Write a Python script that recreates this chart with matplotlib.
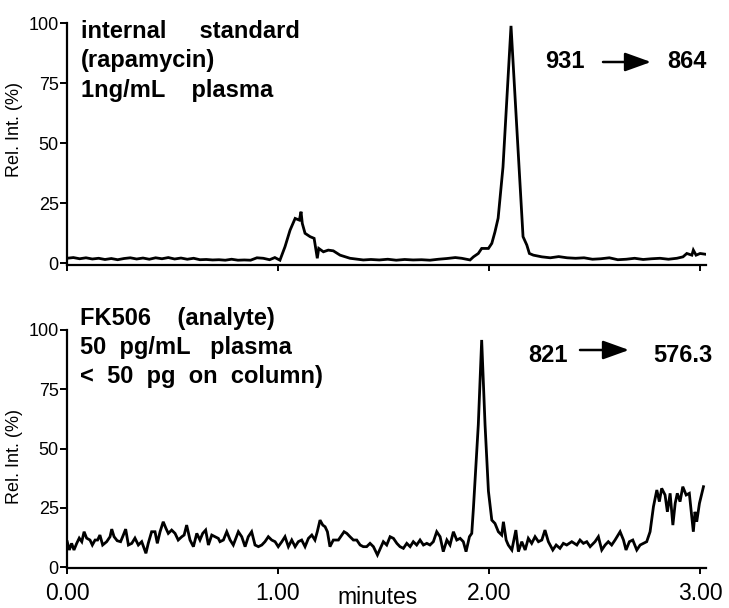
import matplotlib
matplotlib.use("Agg")
import matplotlib.pyplot as plt

plt.rcParams['font.family'] = ['Liberation Sans', 'DejaVu Sans']

# ---------------- data (minutes, relative intensity %) ----------------
top_time = [0.000, 0.030, 0.060, 0.090, 0.120, 0.150, 0.180, 0.210, 0.240, 0.270,
            0.300, 0.330, 0.360, 0.390, 0.420, 0.450, 0.480, 0.510, 0.540, 0.570,
            0.600, 0.630, 0.660, 0.690, 0.720, 0.750, 0.780, 0.810, 0.840, 0.870,
            0.900, 0.930, 0.960, 0.985,
            1.009, 1.033, 1.057, 1.081, 1.101, 1.109, 1.115, 1.128, 1.152, 1.171,
            1.186, 1.193, 1.215, 1.238, 1.262, 1.294, 1.341, 1.404,
            1.440, 1.480, 1.520, 1.560, 1.600, 1.640, 1.680, 1.720, 1.760, 1.800,
            1.840, 1.870, 1.910, 1.926, 1.949, 1.965, 1.997, 2.013, 2.028, 2.043,
            2.066, 2.104, 2.133, 2.161, 2.179, 2.191, 2.210,
            2.250, 2.290, 2.330, 2.370, 2.410, 2.450, 2.490, 2.530, 2.570, 2.610,
            2.650, 2.690, 2.730, 2.770, 2.810, 2.850, 2.890, 2.919, 2.937, 2.961,
            2.968, 2.981, 3.000, 3.024]
top_val = [2.0, 2.3, 1.8, 2.2, 1.7, 2.0, 1.5, 1.9, 1.4, 1.9,
           2.2, 1.7, 2.1, 1.6, 2.2, 1.8, 2.3, 1.7, 2.1, 1.6,
           2.0, 1.4, 1.5, 1.3, 1.4, 1.2, 1.6, 1.2, 1.3, 1.2,
           2.2, 2.0, 1.4, 2.3,
           1.2, 6.8, 13.7, 18.6, 17.9, 21.4, 16.5, 12.4, 11.0, 10.3,
           2.0, 6.1, 4.7, 5.4, 5.1, 3.3, 2.0, 1.3,
           1.5, 1.3, 1.6, 1.2, 1.5, 1.3, 1.4, 1.2, 1.6, 1.9,
           2.3, 2.0, 1.3, 2.6, 4.0, 6.1, 6.1, 8.2, 13.0, 18.7,
           40.0, 98.8, 54.0, 11.0, 7.5, 4.0, 3.3,
           2.6, 2.2, 2.7, 2.2, 2.0, 2.2, 1.6, 1.8, 2.2, 1.4,
           1.6, 2.0, 1.5, 1.8, 2.0, 1.6, 2.0, 2.6, 4.0, 3.3,
           5.4, 3.3, 4.0, 3.7]

bot_time = [0.001, 0.011, 0.022, 0.033, 0.046, 0.058, 0.070, 0.081, 0.093, 0.109,
            0.120, 0.133, 0.145, 0.156, 0.169, 0.188, 0.204, 0.212, 0.223, 0.238,
            0.254, 0.267, 0.278, 0.291, 0.307, 0.322, 0.338, 0.354, 0.374, 0.385,
            0.401, 0.417, 0.428, 0.441, 0.456, 0.469, 0.480, 0.496, 0.512, 0.527,
            0.544, 0.555, 0.567, 0.583, 0.599, 0.615, 0.630, 0.643, 0.657, 0.670,
            0.686, 0.701, 0.717,
            0.725, 0.741, 0.757, 0.773, 0.788, 0.812, 0.828, 0.844, 0.859, 0.875,
            0.891, 0.907, 0.923, 0.938, 0.954, 0.970, 0.986, 1.001, 1.018, 1.033,
            1.049, 1.065, 1.081, 1.096, 1.112, 1.128, 1.144, 1.160, 1.175, 1.186,
            1.199, 1.212, 1.223, 1.234, 1.246, 1.262, 1.286, 1.302, 1.313, 1.326,
            1.341, 1.357, 1.373, 1.389, 1.404, 1.420, 1.436, 1.452, 1.471,
            1.499, 1.515, 1.531, 1.547, 1.563, 1.578, 1.594, 1.610, 1.626, 1.641,
            1.657, 1.673, 1.689, 1.705, 1.720, 1.736, 1.752, 1.768, 1.783, 1.800,
            1.815, 1.831, 1.847, 1.863, 1.878, 1.891, 1.907, 1.918, 1.926, 1.949,
            1.965, 1.981, 1.997, 2.013, 2.028, 2.044, 2.060, 2.068, 2.081, 2.091,
            2.108, 2.127, 2.139, 2.155, 2.171, 2.186, 2.202, 2.218, 2.234, 2.250,
            2.265, 2.281, 2.302, 2.318, 2.336, 2.352, 2.368, 2.392, 2.416, 2.431,
            2.447, 2.463, 2.479, 2.502, 2.518, 2.534, 2.550, 2.565, 2.581, 2.597,
            2.621, 2.637, 2.649, 2.665, 2.681, 2.700, 2.716, 2.731, 2.747, 2.763,
            2.779, 2.795, 2.807, 2.818, 2.834, 2.845, 2.858, 2.871, 2.882, 2.892,
            2.905, 2.918, 2.934, 2.949, 2.968, 2.976, 2.984, 2.997, 3.016]
bot_val = [10.7, 7.2, 10.0, 7.2, 10.0, 12.2, 10.7, 14.9, 12.2, 11.4,
           9.3, 11.4, 11.4, 13.5, 9.3, 10.7, 12.8, 16.0, 12.8, 11.1,
           10.7, 13.5, 16.0, 9.3, 10.0, 12.2, 9.3, 10.7, 5.8, 10.0,
           14.9, 14.9, 10.0, 14.9, 19.1, 16.3, 14.2, 15.6, 14.2, 11.4,
           12.8, 13.5, 17.7, 11.4, 8.6, 14.2, 11.4, 14.2, 15.6, 9.3,
           13.5, 12.8, 12.1,
           10.7, 11.4, 14.9, 11.4, 9.3, 14.9, 12.8, 8.6, 12.8, 14.9,
           9.3, 8.6, 9.3, 10.7, 12.8, 11.4, 10.7, 8.6, 10.7, 12.8,
           8.6, 11.4, 8.6, 10.7, 11.4, 8.6, 12.1, 13.5, 11.4, 14.9,
           19.8, 17.7, 17.0, 14.9, 8.6, 11.4, 11.4, 13.5, 14.9, 14.2,
           12.8, 11.4, 11.4, 9.3, 8.6, 8.6, 10.0, 8.6, 5.1,
           10.7, 9.3, 12.8, 12.1, 10.0, 8.6, 7.9, 10.0, 8.6, 10.7,
           9.3, 11.4, 9.3, 10.0, 9.3, 10.7, 14.9, 12.8, 6.5, 11.4,
           9.3, 14.9, 11.4, 12.1, 10.7, 6.5, 12.8, 14.2, 25.0, 60.0,
           95.8, 60.0, 32.0, 19.8, 18.4, 14.9, 13.5, 19.1, 11.4, 9.3,
           7.2, 15.6, 6.5, 10.7, 7.2, 12.1, 10.0, 12.8, 10.7, 11.4,
           15.6, 10.7, 7.2, 9.3, 7.9, 10.0, 9.3, 10.7, 9.3, 11.4,
           10.0, 10.7, 8.6, 10.7, 12.8, 7.2, 9.3, 10.7, 9.3, 11.4,
           14.9, 11.4, 7.2, 10.7, 11.4, 7.2, 9.3, 10.0, 10.7, 14.9,
           25.5, 32.5, 27.6, 33.2, 30.4, 23.3, 31.1, 17.7, 26.9, 31.1,
           27.6, 33.9, 30.4, 31.1, 14.9, 23.3, 19.1, 26.9, 33.9]

y_ticks = [0, 25, 50, 75, 100]
x_ticks = [0, 1, 2, 3]
x_ticklabels = ["0.00", "1.00", "2.00", "3.00"]

top_lines = ["internal     standard", "(rapamycin)", "1ng/mL    plasma"]
bot_lines = ["FK506    (analyte)", "50  pg/mL   plasma", "<  50  pg  on  column)"]

# ---------------- figure ----------------
W, H = 729, 608
fig = plt.figure(figsize=(W / 100, H / 100), dpi=100)


def px_axes(left, right, top, bottom):
    return fig.add_axes([left / W, 1 - bottom / H, (right - left) / W, (bottom - top) / H])


ax1 = px_axes(67, 706, 23, 265)
ax2 = px_axes(67, 706, 330, 568)

for ax, t, v, ylim in [(ax1, top_time, top_val, (-0.8, 100)),
                       (ax2, bot_time, bot_val, (-0.4, 100))]:
    ax.plot(t, v, color='black', lw=2.0, solid_joinstyle='miter')
    ax.set_xlim(0, 3.028)
    ax.set_ylim(*ylim)
    ax.set_yticks(y_ticks)
    ax.set_xticks(x_ticks)
    for s in ['top', 'right']:
        ax.spines[s].set_visible(False)
    for s in ['left', 'bottom']:
        ax.spines[s].set_linewidth(1.6)
    ax.tick_params(axis='y', direction='out', length=5, width=1.4, labelsize=13, pad=1)
    ax.tick_params(axis='x', direction='out', length=4, width=1.4, labelsize=16.5, pad=6)
    ax.set_ylabel("Rel. Int. (%)", fontsize=13, labelpad=6)

ax1.set_xticklabels([])
ax2.set_xticklabels(x_ticklabels)
ax1.yaxis.set_label_coords(-0.069, 0.56)
ax2.yaxis.set_label_coords(-0.069, 0.47)


def ftext(x, y, s, **kw):
    fig.text(x / W, 1 - y / H, s, va='baseline', **kw)


for s, y in zip(top_lines, [37.5, 66.5, 96.5]):
    ftext(81, y, s, fontsize=17, fontweight='bold')
for s, y in zip(bot_lines, [325, 354, 383]):
    ftext(80, y, s, fontsize=17, fontweight='bold')

ftext(545, 68, "931", fontsize=17, fontweight='bold')
ftext(667, 68, "864", fontsize=17, fontweight='bold')
ftext(528, 362, "821", fontsize=17, fontweight='bold')
ftext(653, 362, "576.3", fontsize=17, fontweight='bold')

for x0, x1, y in [(603, 651, 62), (580, 629, 350)]:
    fig.add_artist(matplotlib.patches.FancyArrowPatch(
        (x0 / W, 1 - y / H), (x1 / W, 1 - y / H), transform=fig.transFigure,
        arrowstyle='-|>,head_length=1.0,head_width=0.36', mutation_scale=16,
        lw=1.8, color='black', shrinkA=0, shrinkB=0))

ftext(337, 604, "minutes", fontsize=16.5)

fig.savefig("out.png", dpi=100)
